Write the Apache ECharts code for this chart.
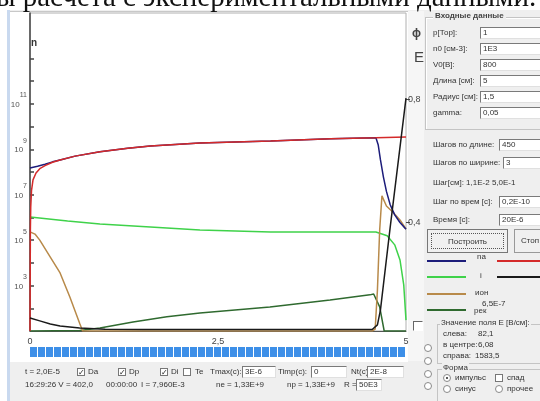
<!DOCTYPE html>
<html><head><meta charset="utf-8">
<script src="https://cdn.jsdelivr.net/npm/echarts@6/dist/echarts.min.js"></script>
<style>
body{margin:0;width:540px;height:401px;overflow:hidden;background:#fff;font-family:"Liberation Sans",Arial,sans-serif;}
#wrap{position:relative;width:540px;height:401px;overflow:hidden;}
.abs{position:absolute;}
.t{position:absolute;white-space:nowrap;font-size:8px;color:#333;line-height:10px;}
.box{position:absolute;background:#fff;border:1px solid #7a7a7a;border-right-color:#e0e0e0;border-bottom-color:#e0e0e0;height:12px;font-size:8px;line-height:10px;padding-left:2px;box-sizing:border-box;color:#333;white-space:nowrap;overflow:hidden;}
.cb{position:absolute;width:8px;height:8px;border:1px solid #777;background:#fff;box-sizing:border-box;font-size:8px;line-height:7px;text-align:center;color:#222;}
.rb{position:absolute;width:8px;height:8px;border:1px solid #888;border-radius:50%;background:#fff;box-sizing:border-box;}
#chart{position:absolute;left:0;top:0;width:540px;height:401px;}
</style></head><body>
<div id="wrap">
  <div class="abs" style="left:7px;top:10px;width:533px;height:391px;background:#efefef;"></div>
  <div class="abs" style="left:7px;top:10px;width:3px;height:391px;background:#c9d9ef;"></div>
  <div class="abs" style="left:10px;top:11px;width:398px;height:350px;background:#fff;border-top:1px solid #c8c8c8;"></div>
  <div class="abs" style="left:408px;top:11px;width:16px;height:350px;background:#f6f6f6;"></div>
  <div id="chart"></div>
  <div class="abs" style="left:-4px;top:-18px;font-family:'Liberation Serif','DejaVu Serif',serif;font-size:29px;line-height:29px;color:#111;white-space:nowrap;">ы расчета с экспериментальными данными.</div>
</div>
<script>
// ---- data ----
const xTickValues = [0, 2.5, 5];
const leftTickValues = [1e2, 1e3, 1e4, 1e5, 1e6, 1e7, 1e8, 1e9, 1e10, 1e11, 1e12, 1e13];
const leftLabelValues = [1e3, 1e5, 1e7, 1e9, 1e11];
const rightLabelValues = [0.4, 0.8];

const redX = [0, 0.005, 0.01, 0.02, 0.04, 0.08, 0.13, 0.2, 0.3, 0.4, 0.6, 0.93, 1.3, 1.6, 2.26, 3.2, 4.0, 4.6, 5.0];
const redY = [10, 3e5, 3e6, 1.5e7, 4.5e7, 9e7, 1.4e8, 1.9e8, 2.7e8, 3.4e8, 5e8, 7.8e8, 1.1e9, 1.4e9, 1.9e9, 2.3e9, 2.9e9, 3.2e9, 3.5e9];

const blueX = [0, 0.1, 0.2, 0.3, 0.4, 0.6, 0.93, 1.3, 1.6, 2.26, 3.2, 4.0, 4.6, 4.63, 4.66, 4.7, 4.74, 4.79, 4.85, 4.92, 5.0];
const blueY = [1.5e8, 1.8e8, 2.2e8, 2.8e8, 3.4e8, 5e8, 7.8e8, 1.1e9, 1.4e9, 1.9e9, 2.3e9, 2.9e9, 3.2e9, 1.6e9, 3.5e8, 6e7, 1.4e7, 3.6e6, 1.3e6, 6e5, 3e5];

const greenX = [0, 0.5, 0.93, 1.6, 2.26, 3.2, 4.6, 4.75, 4.85, 4.92, 4.97, 5.0];
const greenY = [1.05e6, 7e5, 5.1e5, 3.8e5, 2.8e5, 2.3e5, 2.3e5, 1.55e5, 6.2e4, 1.35e4, 1.07e3, 30];

const brownX = [0, 0.066, 0.13, 0.27, 0.4, 0.53, 0.66, 0.7, 4.55, 4.59, 4.62, 4.65, 4.68, 4.74, 4.83, 4.92, 5.0];
const brownY = [2.3e5, 1.85e5, 1e5, 1.8e4, 3.6e3, 316, 22, 10, 10, 12, 630, 2.8e5, 8.9e6, 3.2e6, 1.66e6, 7.8e5, 3.1e5];

const darkGreenX = [0, 0.66, 0.93, 1.37, 1.82, 2.26, 3.19, 3.99, 4.52, 4.57, 4.65, 4.71, 5.0];
const darkGreenY = [10, 10.5, 13.5, 25, 42, 62, 115, 234, 390, 427, 115, 10, 10];

const blackX = [0, 0.13, 0.27, 0.4, 0.66, 1.0, 1.5, 2.2, 3.5, 4.55, 4.62, 4.66, 4.79, 5.0];
const blackY = [0.088, 0.079, 0.069, 0.062, 0.056, 0.052, 0.051, 0.051, 0.051, 0.051, 0.066, 0.114, 0.384, 0.803];

// ---- chart ----
const pairs = (xs, ys) => xs.map((x, i) => [x, ys[i]]);
const comma = v => String(v).replace('.', ',');
const chart = echarts.init(document.getElementById('chart'), null, {renderer: 'canvas'});
function line(name, xs, ys, color, yIdx, w) {
  return {name, type: 'line', yAxisIndex: yIdx, data: pairs(xs, ys), showSymbol: false, symbol: 'none',
    lineStyle: {color, width: w || 1.5}, itemStyle: {color}, z: 2, silent: true};
}
chart.setOption({
  animation: false,
  backgroundColor: 'transparent',
  grid: {left: 30, top: 13, width: 376, height: 318, show: true, borderColor: '#b0b0b0', borderWidth: 1, backgroundColor: 'transparent'},
  xAxis: {type: 'value', min: 0, max: 5,
    axisLine: {show: true, onZero: false, lineStyle: {color: '#555', width: 1}},
    axisTick: {show: false}, splitLine: {show: false},
    axisLabel: {customValues: xTickValues, formatter: comma, fontSize: 9, color: '#444', margin: 6, fontFamily: 'Liberation Sans'}},
  yAxis: [
    {type: 'log', logBase: 10, min: 10, max: 1e15, position: 'left',
      axisLine: {show: true, lineStyle: {color: '#444', width: 1.5}},
      axisTick: {show: true, inside: true, length: 4, customValues: leftTickValues, lineStyle: {color: '#444', width: 1.5}},
      splitLine: {show: false},
      axisLabel: {customValues: leftLabelValues, margin: 3, color: '#444', padding: [0, 0, 7, 0],
        formatter: v => { const e = Math.round(Math.log10(v)); return (e % 2 === 1 && e >= 3 && e <= 11) ? '{b|10}{s|' + e + '}' : ''; },
        rich: {b: {fontSize: 8, color: '#555', lineHeight: 12, verticalAlign: 'bottom', fontFamily: 'Liberation Sans'},
               s: {fontSize: 7, color: '#555', lineHeight: 17, verticalAlign: 'top', fontFamily: 'Liberation Sans'}}}},
    {type: 'value', min: 0.046, max: 1.08, position: 'right',
      axisLine: {show: false}, splitLine: {show: false},
      axisTick: {show: true, inside: false, length: 4, customValues: rightLabelValues, lineStyle: {color: '#444'}},
      axisLabel: {customValues: rightLabelValues, formatter: comma, fontSize: 9, color: '#444', margin: 2, fontFamily: 'Liberation Sans'}}
  ],
  series: [
    line('i', greenX, greenY, '#3fd24a', 0),
    line('рек', darkGreenX, darkGreenY, '#2f6a2f', 0),
    line('ион', brownX, brownY, '#b88a4a', 0),
    line('na', blueX, blueY, '#1c1c7a', 0),
    line('np', redX, redY, '#d42a2a', 0),
    line('E', blackX, blackY, '#1a1a1a', 1)
  ]
});

// ---- window UI (text + controls) ----
const wrap = document.getElementById('wrap');
function el(cls, x, y, w, h, html, style) {
  const d = document.createElement('div'); d.className = cls;
  d.style.left = x + 'px'; d.style.top = y + 'px';
  if (w != null) d.style.width = w + 'px';
  if (h != null) d.style.height = h + 'px';
  if (html != null) d.textContent = html;
  if (style) Object.assign(d.style, style);
  wrap.appendChild(d); return d;
}
const T = (txt, x, y, style) => el('t', x, y - 5, null, null, txt, style);
const BOX = (txt, x, y, w) => el('box', x, y - 6, w, 12, txt);
const CB = (x, y, on) => el('cb', x, y - 4, null, null, on ? '✓' : '');
const RB = (x, y, on) => { const r = el('rb', x, y - 4); if (on) r.innerHTML = '<div style="width:2px;height:2px;background:#222;border-radius:50%;margin:2px"></div>'; return r; };
const LN = (x1, x2, y, c) => el('abs', x1, y - 1, x2 - x1, 2, null, {background: c});

T('n', 31, 43, {fontSize: '10px', fontWeight: 'bold', color: '#333'});

// progress bar
el('abs', 29, 346, 379, 12, null, {background: '#fff'});
for (let x = 30; x < 405; x += 8) el('abs', x, 347, 7, 10, null, {background: '#3d8fe8'});

// status rows
T('t =   2,0E-5', 25, 372);
CB(77, 372, true); T('Da', 88, 372);
CB(118, 372, true); T('Dp', 129, 372);
CB(160, 372, true); T('Di', 171, 372);
CB(183, 372, false); T('Te', 195, 372);
T('Tmax(c):', 210, 372); BOX('3E-6', 242, 372, 34);
T('Timp(c):', 278, 372); BOX('0', 311, 372, 36);
T('Nt(c):', 351, 372); BOX('2E-8', 367, 372, 37);
T('16:29:26  V =  402,0', 25, 385); T('00:00:00', 106, 385); T('I =   7,960E-3', 141, 385);
T('ne =   1,33E+9', 216, 385); T('np =   1,33E+9', 287, 385); T('R =', 344, 385); BOX('50E3', 356, 385, 26);

// right panel
T('ϕ', 412, 33, {fontSize: '12px', fontWeight: 'bold', color: '#444'});
T('E', 414, 56, {fontSize: '15px', color: '#444', lineHeight: '12px'});
el('abs', 425, 17, 130, 111, null, {border: '1px solid #c4c4c4', boxShadow: 'inset 1px 1px 0 #fff'});
T('Входные данные', 433, 16, {background: '#efefef', padding: '0 2px', fontWeight: 'bold', color: '#444'});
const inputs = [['p[Тор]:', '1', 33], ['n0 [см-3]:', '1E3', 49], ['V0[В]:', '800', 65], ['Длина [см]:', '5', 81], ['Радиус [см]:', '1,5', 97], ['gamma:', '0,05', 113]];
inputs.forEach(r => { T(r[0], 433, r[2]); BOX(r[1], 480, r[2], 70); });
T('Шагов по длине:', 433, 145); BOX('450', 499, 145, 50);
T('Шагов по ширине:', 433, 163); BOX('3', 503, 163, 50);
T('Шаг[см]:   1,1E-2   5,0E-1', 433, 183);
T('Шаг по врем [с]:', 433, 202); BOX('0,2E-10', 499, 202, 50);
T('Время [с]:', 433, 220); BOX('20E-6', 499, 220, 50);
// buttons
const b1 = el('abs', 427, 229, 81, 24, null, {background: '#f0f0f0', border: '1px solid #777', boxSizing: 'border-box'});
b1.innerHTML = '<div style="position:absolute;left:3px;top:3px;right:3px;bottom:3px;border:1px dotted #555;font-size:8px;color:#333;text-align:center;line-height:16px">Построить</div>';
const b2 = el('abs', 514, 229, 40, 24, null, {background: '#f0f0f0', border: '1px solid #999', boxSizing: 'border-box', fontSize: '8px', color: '#333', lineHeight: '22px', paddingLeft: '6px'});
b2.textContent = 'Стоп';
// legend lines
LN(427, 466, 261, '#1c1c7a'); T('na', 477, 257); LN(497, 541, 261, '#d42a2a');
LN(427, 466, 277, '#3fd24a'); T('i', 480, 276); LN(497, 541, 277, '#1a1a1a');
LN(427, 466, 294, '#b88a4a'); T('ион', 475, 293);
LN(427, 466, 310, '#2f6a2f'); T('рек', 474, 311); T('6,5E-7', 482, 304);
// field box
el('cb', 413, 321, 10, 10, null, {borderColor: '#666 #fff #fff #666'});
el('abs', 437, 324, 110, 38, null, {border: '1px solid #c4c4c4'});
T('Значение поля E [В/см]:', 440, 323, {background: '#efefef', padding: '0 1px'});
T('слева:', 443, 334); T('82,1', 478, 334);
T('в центре:', 443, 345); T('6,08', 478, 345);
T('справа:', 443, 356); T('1583,5', 475, 356);
RB(424, 348, false); RB(424, 361, false); RB(424, 374, false); RB(424, 386, false);
el('abs', 437, 369, 110, 34, null, {border: '1px solid #c4c4c4'});
T('Форма', 442, 368, {background: '#efefef', padding: '0 1px'});
RB(443, 378, true); T('импульс', 455, 378); CB(495, 378, false); T('спад', 507, 378);
RB(443, 389, false); T('синус', 455, 389); RB(495, 389, false); T('прочее', 507, 389);
</script>
</body></html>
